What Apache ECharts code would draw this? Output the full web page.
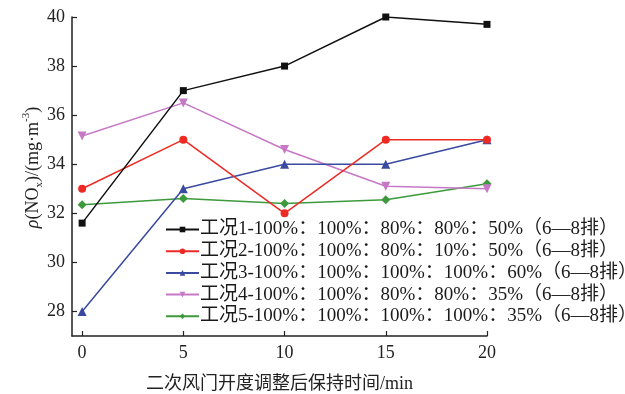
<!DOCTYPE html>
<html>
<head>
<meta charset="utf-8">
<script src="https://cdn.jsdelivr.net/npm/echarts@6/dist/echarts.min.js"></script>
<style>
  html, body { margin: 0; padding: 0; background: #ffffff; }
  #chart { width: 625px; height: 394px; }
</style>
</head>
<body>
<div id="chart"></div>
<script>
// Holding time after secondary air damper adjustment (min)
const times = [0, 5, 10, 15, 20];
const xTicks = [0, 5, 10, 15, 20];
const yTicks = [28, 30, 32, 34, 36, 38, 40];

// NOx concentration for each operating condition (mg/m3)
const case1 = [31.6, 37.0, 38.0, 40.0, 39.7];
const case2 = [33.0, 35.0, 32.0, 35.0, 35.0];
const case3 = [28.0, 33.0, 34.0, 34.0, 35.0];
const case4 = [35.15, 36.5, 34.6, 33.1, 33.0];
const case5 = [32.35, 32.6, 32.4, 32.55, 33.2];

const names = [
  '工况1-100%：100%：80%：80%：50%（6—8排）',
  '工况2-100%：100%：80%：10%：50%（6—8排）',
  '工况3-100%：100%：100%：100%：60%（6—8排）',
  '工况4-100%：100%：80%：80%：35%（6—8排）',
  '工况5-100%：100%：100%：100%：35%（6—8排）'
];

const FONT = '"Liberation Serif", "Times New Roman", "Noto Sans CJK SC", serif';

const styles = [
  { color: '#111111', symbol: 'rect', size: 7 },
  { color: '#ee2a24', symbol: 'circle', size: 8 },
  { color: '#3a4aa0', symbol: 'triangle', size: 9 },
  { color: '#c678c6', symbol: 'path://M0,0 L10,0 L5,9 Z', size: 9 },
  { color: '#3c9a3c', symbol: 'diamond', size: 9 }
];

const allData = [case1, case2, case3, case4, case5];

const series = allData.map((vals, i) => ({
  name: names[i],
  type: 'line',
  data: times.map((t, j) => [t, vals[j]]),
  symbol: styles[i].symbol,
  symbolSize: styles[i].size,
  showAllSymbol: true,
  lineStyle: { color: styles[i].color, width: 1.5 },
  itemStyle: { color: styles[i].color },
  emphasis: { disabled: true },
  z: 2 + (4 - i)
}));

const chart = echarts.init(document.getElementById('chart'), null, { renderer: 'canvas' });

chart.setOption({
  animation: false,
  backgroundColor: '#ffffff',
  textStyle: { fontFamily: FONT },
  grid: { left: 72, right: 138, top: 17, bottom: 58, containLabel: false, outerBoundsMode: 'none' },
  legend: {
    orient: 'vertical',
    left: 165,
    top: 220,
    itemWidth: 33,
    itemHeight: 7,
    itemGap: 2.7,
    padding: 0,
    selectedMode: false,
    textStyle: { fontFamily: FONT, fontSize: 19, color: '#1a1a1a', lineHeight: 19, padding: [0, 0, 0, -4] },
    data: names
  },
  xAxis: {
    type: 'value',
    min: -0.5,
    max: 20,
    name: '二次风门开度调整后保持时间/min',
    nameLocation: 'middle',
    nameGap: 39,
    nameMoveOverlap: false,
    nameTextStyle: { fontFamily: FONT, fontSize: 18, color: '#222' },
    axisLine: { onZero: false, lineStyle: { color: '#222', width: 1.5 } },
    axisTick: { inside: true, length: 5, lineStyle: { color: '#222', width: 1.2 }, customValues: xTicks },
    axisLabel: { fontFamily: FONT, fontSize: 18, color: '#222', margin: 8, customValues: xTicks },
    splitLine: { show: false }
  },
  yAxis: {
    type: 'value',
    min: 27,
    max: 40,
    name: '{i|ρ}(NO{sub|x})/(mg·m{sup|-3})',
    nameLocation: 'middle',
    nameRotate: 90,
    nameGap: 27,
    nameMoveOverlap: false,
    nameTextStyle: {
      fontFamily: FONT, fontSize: 18, color: '#222', padding: [0, 0, 0, 18],
      rich: {
        i: { fontFamily: FONT, fontSize: 18, fontStyle: 'italic', color: '#222' },
        sub: { fontFamily: FONT, fontSize: 11, color: '#222', verticalAlign: 'bottom', lineHeight: 15 },
        sup: { fontFamily: FONT, fontSize: 11, color: '#222', verticalAlign: 'top', lineHeight: 24 }
      }
    },
    axisLine: { show: true, onZero: false, lineStyle: { color: '#222', width: 1.5 } },
    axisTick: { show: true, inside: true, length: 5, lineStyle: { color: '#222', width: 1.2 }, customValues: yTicks },
    axisLabel: { fontFamily: FONT, fontSize: 18, color: '#222', margin: 7, customValues: yTicks },
    splitLine: { show: false }
  },
  series: series
});
</script>
</body>
</html>
